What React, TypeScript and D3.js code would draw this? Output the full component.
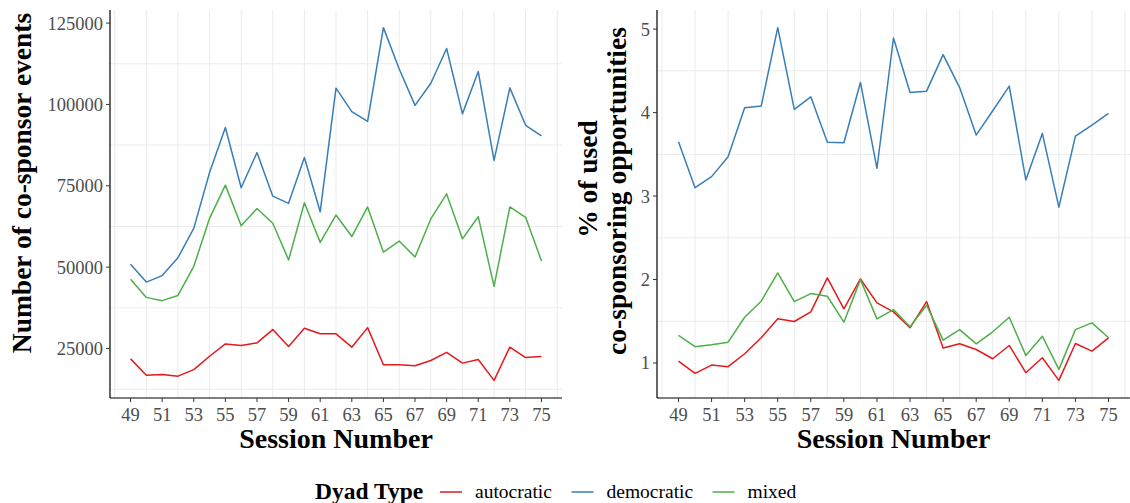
import React from "react";
import * as d3 from "d3";

const sessions = d3.range(49, 76);

const eventsAutocratic = [21800, 16800, 17000, 16500, 18500, 22600, 26400, 25900, 26700, 30800, 25600, 31200, 29500, 29500, 25400, 31400, 20000, 20000, 19700, 21300, 23800, 20500, 21600, 15200, 25400, 22200, 22500];
const eventsDemocratic = [50900, 45400, 47400, 52900, 61900, 79100, 92900, 74400, 85200, 71800, 69600, 83700, 67000, 105000, 97800, 94800, 123600, 110900, 99700, 106500, 117200, 97100, 110100, 82800, 105100, 93600, 90300];
const eventsMixed = [46300, 40700, 39700, 41300, 50200, 65000, 75200, 62700, 68000, 63500, 52200, 69800, 57600, 66000, 59400, 68500, 54600, 58000, 53100, 64800, 72500, 58700, 65500, 44100, 68500, 65300, 51900];

const pctAutocratic = [1.023, 0.876, 0.975, 0.956, 1.111, 1.302, 1.529, 1.497, 1.613, 2.019, 1.649, 2.007, 1.72, 1.613, 1.422, 1.736, 1.18, 1.23, 1.162, 1.051, 1.21, 0.884, 1.063, 0.792, 1.234, 1.142, 1.302];
const pctDemocratic = [3.651, 3.1, 3.233, 3.472, 4.057, 4.078, 5.018, 4.038, 4.189, 3.644, 3.639, 4.361, 3.333, 4.894, 4.241, 4.257, 4.695, 4.3, 3.731, 4.022, 4.317, 3.194, 3.751, 2.867, 3.719, 3.851, 3.99];
const pctMixed = [1.33, 1.195, 1.219, 1.25, 1.548, 1.74, 2.079, 1.736, 1.832, 1.8, 1.489, 1.999, 1.529, 1.64, 1.434, 1.692, 1.274, 1.4, 1.23, 1.374, 1.548, 1.091, 1.321, 0.924, 1.4, 1.481, 1.302];

const xTicks = d3.range(49, 76, 2);
const xMinor = d3.range(48, 77, 2);
const leftYTicks = [25000, 50000, 75000, 100000, 125000];
const leftYMinor = [12500, 37500, 62500, 87500, 112500];
const rightYTicks = [1, 2, 3, 4, 5];
const rightYMinor = [1.5, 2.5, 3.5, 4.5];

const dyadTypes = ["autocratic", "democratic", "mixed"];
const colors: Record<string, string> = { autocratic: "#E41A1C", democratic: "#377EB8", mixed: "#4DAF4A" };

const FONT = "'Liberation Serif', 'Times New Roman', serif";
const TICK_COLOR = "#4D4D4D";
const GRID = "#EBEBEB";

function expand(vals: number[]): [number, number] {
  const mn = d3.min(vals) as number;
  const mx = d3.max(vals) as number;
  const e = (mx - mn) * 0.05;
  return [mn - e, mx + e];
}

type PanelProps = {
  x0: number; x1: number; y0: number; y1: number;
  series: Record<string, number[]>;
  yTicks: number[]; yMinor: number[];
};

function Panel({ x0, x1, y0, y1, series, yTicks, yMinor }: PanelProps) {
  const xs = d3.scaleLinear().domain(expand(sessions)).range([x0, x1]);
  const all = Object.values(series).flat();
  const ys = d3.scaleLinear().domain(expand(all)).range([y1, y0]);
  const line = d3.line<number>().x((_, i) => xs(sessions[i])).y((d) => ys(d));
  return (
    <g>
      {xMinor.map((v) => (
        <line key={"gx" + v} x1={xs(v)} x2={xs(v)} y1={y0} y2={y1} stroke={GRID} strokeWidth={1} />
      ))}
      {yMinor.map((v) => (
        <line key={"gy" + v} x1={x0} x2={x1} y1={ys(v)} y2={ys(v)} stroke={GRID} strokeWidth={1} />
      ))}
      {dyadTypes.map((k) => (
        <path key={k} d={line(series[k]) as string} fill="none" stroke={colors[k]} strokeWidth={1.5} strokeLinejoin="round" />
      ))}
      <line x1={x0} x2={x0} y1={y0} y2={y1} stroke="#000" strokeWidth={1.2} />
      <line x1={x0} x2={x1} y1={y1} y2={y1} stroke="#000" strokeWidth={1.2} />
      {yTicks.map((v) => (
        <g key={"ty" + v}>
          <line x1={x0 - 4} x2={x0} y1={ys(v)} y2={ys(v)} stroke="#333" strokeWidth={1} />
          <text x={x0 - 7} y={ys(v)} dy="0.35em" textAnchor="end" fontFamily={FONT} fontSize={18.5} fill={TICK_COLOR}>{v}</text>
        </g>
      ))}
      {xTicks.map((v) => (
        <g key={"tx" + v}>
          <line x1={xs(v)} x2={xs(v)} y1={y1} y2={y1 + 4} stroke="#333" strokeWidth={1} />
          <text x={xs(v)} y={y1 + 22.5} textAnchor="middle" fontFamily={FONT} fontSize={18.5} fill={TICK_COLOR}>{v}</text>
        </g>
      ))}
      <text x={(x0 + x1) / 2} y={448} textAnchor="middle" fontFamily={FONT} fontWeight="bold" fontSize={28} fill="#000">Session Number</text>
    </g>
  );
}

export default function App() {
  const leftSeries = { autocratic: eventsAutocratic, democratic: eventsDemocratic, mixed: eventsMixed };
  const rightSeries = { autocratic: pctAutocratic, democratic: pctDemocratic, mixed: pctMixed };
  const legendItems = [
    { key: "autocratic", lineX: 440, textX: 475 },
    { key: "democratic", lineX: 571.5, textX: 606.5 },
    { key: "mixed", lineX: 712.5, textX: 747.5 },
  ];
  return (
    <svg width={1130} height={503} style={{ position: "absolute", left: 0, top: 0, background: "#fff" }}>
      <rect width={1130} height={503} fill="#fff" />
      <Panel x0={110} x1={562} y0={10} y1={398} series={leftSeries} yTicks={leftYTicks} yMinor={leftYMinor} />
      <Panel x0={657} x1={1130} y0={10} y1={398} series={rightSeries} yTicks={rightYTicks} yMinor={rightYMinor} />
      <text transform="translate(31,183) rotate(-90)" textAnchor="middle" fontFamily={FONT} fontWeight="bold" fontSize={27.5} fill="#000">Number of co-sponsor events</text>
      <text transform="translate(597,179) rotate(-90)" textAnchor="middle" fontFamily={FONT} fontWeight="bold" fontSize={27.5} fill="#000">% of used</text>
      <text transform="translate(626,191) rotate(-90)" textAnchor="middle" fontFamily={FONT} fontWeight="bold" fontSize={27.5} fill="#000">co-sponsoring opportunities</text>
      <text x={315} y={499} fontFamily={FONT} fontWeight="bold" fontSize={23.5} fill="#000">Dyad Type</text>
      {legendItems.map((it) => (
        <g key={it.key}>
          <line x1={it.lineX} x2={it.lineX + 22} y1={492} y2={492} stroke={colors[it.key]} strokeWidth={1.5} />
          <text x={it.textX} y={498} fontFamily={FONT} fontSize={19.5} fill="#000">{it.key}</text>
        </g>
      ))}
    </svg>
  );
}
